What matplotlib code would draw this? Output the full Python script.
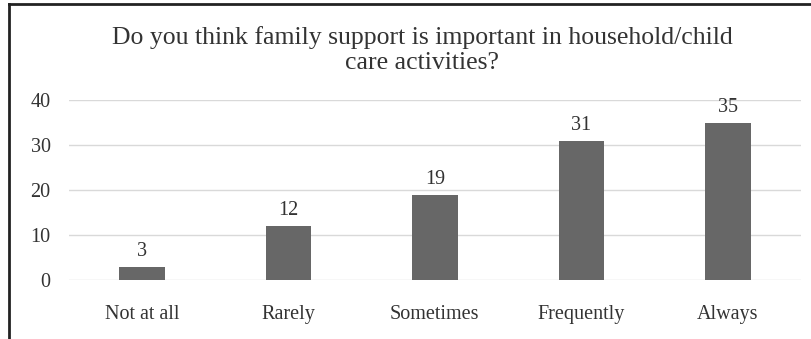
import matplotlib
matplotlib.use("Agg")
from matplotlib import pyplot as plt
from matplotlib.lines import Line2D

plt.rcParams["font.family"] = ["Liberation Serif", "DejaVu Serif"]

# 数据
categories = ["Not at all", "Rarely", "Sometimes", "Frequently", "Always"]
values = [3, 12, 19, 31, 35]
yticks = [0, 10, 20, 30, 40]
title = "Do you think family support is important in household/child\ncare activities?"

fig = plt.figure(figsize=(8.12, 3.39), dpi=100)
ax = fig.add_axes([0.0845, 0.174, 0.902, 0.531])

bars = ax.bar(range(len(categories)), values, width=0.31, color="#676767", zorder=3)
for b, v in zip(bars, values):
    ax.text(b.get_x() + b.get_width() / 2, v + 1.3, str(v), ha="center", va="bottom",
            fontsize=14.5, color="#333333")

ax.set_xlim(-0.5, len(categories) - 0.5)
ax.set_ylim(0, 40)
ax.set_yticks(yticks)
ax.set_xticks(range(len(categories)))
ax.set_xticklabels(categories)
ax.yaxis.grid(True, color="#d9d9d9", linewidth=1, zorder=0)
ax.tick_params(axis="both", length=0, labelsize=14.5, labelcolor="#333333")
ax.tick_params(axis="x", pad=18)
ax.tick_params(axis="y", pad=13)
for s in ax.spines.values():
    s.set_visible(False)

fig.text(422 / 812, 1 - 50 / 339, title, ha="center", va="center", fontsize=18.5,
         color="#333333", linespacing=1.15)

# 外框（左边和上边）
fig.add_artist(Line2D([9 / 812, 9 / 812], [0, 1 - 4 / 339], color="#222222", lw=2))
fig.add_artist(Line2D([9 / 812, 1], [1 - 4 / 339, 1 - 4 / 339], color="#222222", lw=2))

fig.savefig("out.png", dpi=100)
